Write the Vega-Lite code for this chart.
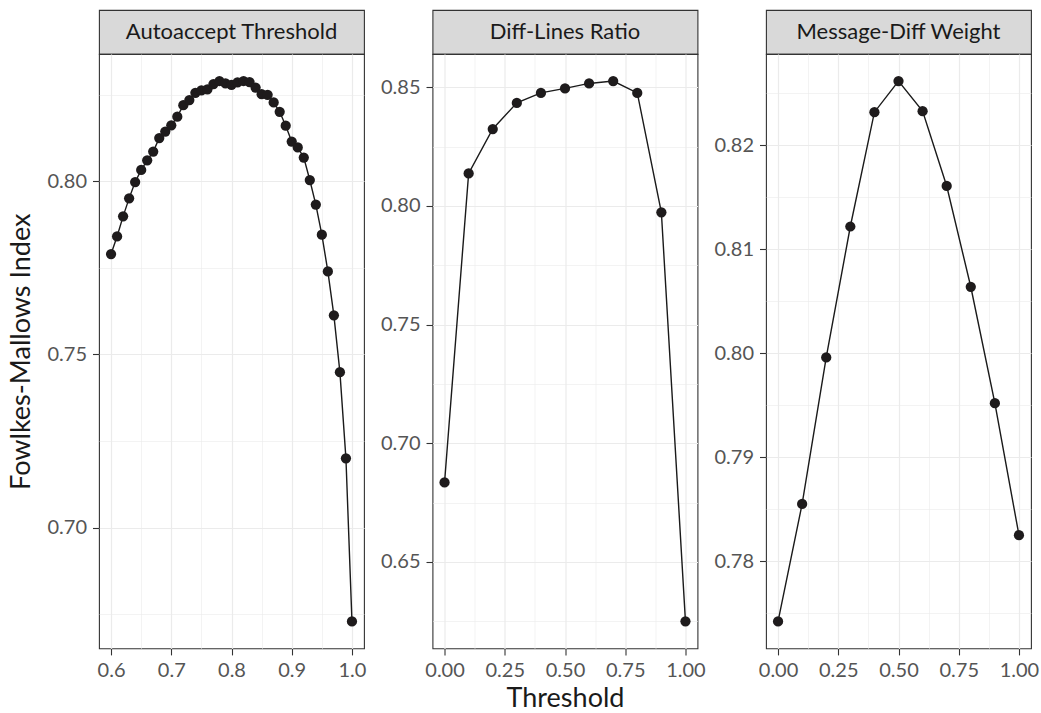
{
  "$schema": "https://vega.github.io/schema/vega-lite/v6.json",
  "padding": {"left": 7, "top": 9, "right": 3, "bottom": 0},
  "background": "white",
  "data": {"values": [
    {"panel": "Autoaccept Threshold", "threshold": 0.60, "fmi": 0.7790},
    {"panel": "Autoaccept Threshold", "threshold": 0.61, "fmi": 0.7841},
    {"panel": "Autoaccept Threshold", "threshold": 0.62, "fmi": 0.7899},
    {"panel": "Autoaccept Threshold", "threshold": 0.63, "fmi": 0.7951},
    {"panel": "Autoaccept Threshold", "threshold": 0.64, "fmi": 0.7998},
    {"panel": "Autoaccept Threshold", "threshold": 0.65, "fmi": 0.8033},
    {"panel": "Autoaccept Threshold", "threshold": 0.66, "fmi": 0.8061},
    {"panel": "Autoaccept Threshold", "threshold": 0.67, "fmi": 0.8086},
    {"panel": "Autoaccept Threshold", "threshold": 0.68, "fmi": 0.8125},
    {"panel": "Autoaccept Threshold", "threshold": 0.69, "fmi": 0.8144},
    {"panel": "Autoaccept Threshold", "threshold": 0.70, "fmi": 0.8162},
    {"panel": "Autoaccept Threshold", "threshold": 0.71, "fmi": 0.8187},
    {"panel": "Autoaccept Threshold", "threshold": 0.72, "fmi": 0.8220},
    {"panel": "Autoaccept Threshold", "threshold": 0.73, "fmi": 0.8235},
    {"panel": "Autoaccept Threshold", "threshold": 0.74, "fmi": 0.8256},
    {"panel": "Autoaccept Threshold", "threshold": 0.75, "fmi": 0.8263},
    {"panel": "Autoaccept Threshold", "threshold": 0.76, "fmi": 0.8266},
    {"panel": "Autoaccept Threshold", "threshold": 0.77, "fmi": 0.8281},
    {"panel": "Autoaccept Threshold", "threshold": 0.78, "fmi": 0.8290},
    {"panel": "Autoaccept Threshold", "threshold": 0.79, "fmi": 0.8283},
    {"panel": "Autoaccept Threshold", "threshold": 0.80, "fmi": 0.8279},
    {"panel": "Autoaccept Threshold", "threshold": 0.81, "fmi": 0.8286},
    {"panel": "Autoaccept Threshold", "threshold": 0.82, "fmi": 0.8290},
    {"panel": "Autoaccept Threshold", "threshold": 0.83, "fmi": 0.8287},
    {"panel": "Autoaccept Threshold", "threshold": 0.84, "fmi": 0.8271},
    {"panel": "Autoaccept Threshold", "threshold": 0.85, "fmi": 0.8252},
    {"panel": "Autoaccept Threshold", "threshold": 0.86, "fmi": 0.8250},
    {"panel": "Autoaccept Threshold", "threshold": 0.87, "fmi": 0.8228},
    {"panel": "Autoaccept Threshold", "threshold": 0.88, "fmi": 0.8201},
    {"panel": "Autoaccept Threshold", "threshold": 0.89, "fmi": 0.8161},
    {"panel": "Autoaccept Threshold", "threshold": 0.90, "fmi": 0.8115},
    {"panel": "Autoaccept Threshold", "threshold": 0.91, "fmi": 0.8098},
    {"panel": "Autoaccept Threshold", "threshold": 0.92, "fmi": 0.8069},
    {"panel": "Autoaccept Threshold", "threshold": 0.93, "fmi": 0.8004},
    {"panel": "Autoaccept Threshold", "threshold": 0.94, "fmi": 0.7933},
    {"panel": "Autoaccept Threshold", "threshold": 0.95, "fmi": 0.7846},
    {"panel": "Autoaccept Threshold", "threshold": 0.96, "fmi": 0.7740},
    {"panel": "Autoaccept Threshold", "threshold": 0.97, "fmi": 0.7613},
    {"panel": "Autoaccept Threshold", "threshold": 0.98, "fmi": 0.7449},
    {"panel": "Autoaccept Threshold", "threshold": 0.99, "fmi": 0.7200},
    {"panel": "Autoaccept Threshold", "threshold": 1.00, "fmi": 0.6729},
    {"panel": "Diff-Lines Ratio", "threshold": 0.0, "fmi": 0.6835},
    {"panel": "Diff-Lines Ratio", "threshold": 0.1, "fmi": 0.8137},
    {"panel": "Diff-Lines Ratio", "threshold": 0.2, "fmi": 0.8324},
    {"panel": "Diff-Lines Ratio", "threshold": 0.3, "fmi": 0.8434},
    {"panel": "Diff-Lines Ratio", "threshold": 0.4, "fmi": 0.8476},
    {"panel": "Diff-Lines Ratio", "threshold": 0.5, "fmi": 0.8495},
    {"panel": "Diff-Lines Ratio", "threshold": 0.6, "fmi": 0.8516},
    {"panel": "Diff-Lines Ratio", "threshold": 0.7, "fmi": 0.8526},
    {"panel": "Diff-Lines Ratio", "threshold": 0.8, "fmi": 0.8476},
    {"panel": "Diff-Lines Ratio", "threshold": 0.9, "fmi": 0.7973},
    {"panel": "Diff-Lines Ratio", "threshold": 1.0, "fmi": 0.6250},
    {"panel": "Message-Diff Weight", "threshold": 0.0, "fmi": 0.7742},
    {"panel": "Message-Diff Weight", "threshold": 0.1, "fmi": 0.7855},
    {"panel": "Message-Diff Weight", "threshold": 0.2, "fmi": 0.7996},
    {"panel": "Message-Diff Weight", "threshold": 0.3, "fmi": 0.8122},
    {"panel": "Message-Diff Weight", "threshold": 0.4, "fmi": 0.8232},
    {"panel": "Message-Diff Weight", "threshold": 0.5, "fmi": 0.8262},
    {"panel": "Message-Diff Weight", "threshold": 0.6, "fmi": 0.8233},
    {"panel": "Message-Diff Weight", "threshold": 0.7, "fmi": 0.8161},
    {"panel": "Message-Diff Weight", "threshold": 0.8, "fmi": 0.8064},
    {"panel": "Message-Diff Weight", "threshold": 0.9, "fmi": 0.7952},
    {"panel": "Message-Diff Weight", "threshold": 1.0, "fmi": 0.7825}
  ]},
  "config": {
    "font": "Lato",
    "view": {"stroke": "#333333", "strokeWidth": 1.1},
    "axis": {
      "domain": false, "grid": true, "gridColor": "#EBEBEB",
      "tickColor": "#333333", "tickSize": 6.5, "tickWidth": 1.1,
      "labelFont": "Lato", "labelFontSize": 20, "labelColor": "#555555", "labelPadding": 6,
      "titleFont": "Lato", "titleFontSize": 27, "titleFontWeight": "normal", "titleColor": "#1A1A1A"
    },
    "axisY": {"titlePadding": 11},
    "axisX": {"titlePadding": 5}
  },
  "columns": 3,
  "spacing": {"row": 0, "column": 68.5},
  "bounds": "flush",
  "align": "each",
  "concat": [
    {
      "width": 265, "height": 44,
      "view": {"fill": "#D9D9D9", "stroke": "#333333", "strokeWidth": 1.1},
      "transform": [{"filter": "datum.panel === 'Autoaccept Threshold'"}, {"aggregate": [{"op": "count", "as": "n"}], "groupby": ["panel"]}],
      "mark": {"type": "text", "fontSize": 22, "color": "#1A1A1A", "baseline": "middle", "align": "center"},
      "encoding": {"text": {"field": "panel", "type": "nominal"}}
    },
    {
      "width": 265, "height": 44,
      "view": {"fill": "#D9D9D9", "stroke": "#333333", "strokeWidth": 1.1},
      "transform": [{"filter": "datum.panel === 'Diff-Lines Ratio'"}, {"aggregate": [{"op": "count", "as": "n"}], "groupby": ["panel"]}],
      "mark": {"type": "text", "fontSize": 22, "color": "#1A1A1A", "baseline": "middle", "align": "center"},
      "encoding": {"text": {"field": "panel", "type": "nominal"}}
    },
    {
      "width": 265, "height": 44,
      "view": {"fill": "#D9D9D9", "stroke": "#333333", "strokeWidth": 1.1},
      "transform": [{"filter": "datum.panel === 'Message-Diff Weight'"}, {"aggregate": [{"op": "count", "as": "n"}], "groupby": ["panel"]}],
      "mark": {"type": "text", "fontSize": 22, "color": "#1A1A1A", "baseline": "middle", "align": "center"},
      "encoding": {"text": {"field": "panel", "type": "nominal"}}
    },
    {
      "width": 265, "height": 594.4,
      "transform": [{"filter": "datum.panel === 'Autoaccept Threshold'"}],
      "encoding": {
        "x": {"field": "threshold", "type": "quantitative",
          "scale": {"domain": [0.58, 1.02], "nice": false, "zero": false},
          "axis": {"title": null, "values": [0.6, 0.65, 0.7, 0.75, 0.8, 0.85, 0.9, 0.95, 1.0], "format": ".1f",
            "labelExpr": "round(datum.value*100)%10==0 ? datum.label : ''",
            "tickOpacity": {"condition": {"test": "round(datum.value*100)%10==0", "value": 1}, "value": 0},
            "gridWidth": {"condition": {"test": "round(datum.value*100)%10==0", "value": 1.2}, "value": 0.6}}},
        "y": {"field": "fmi", "type": "quantitative",
          "scale": {"domain": [0.6651, 0.8368], "nice": false, "zero": false},
          "axis": {"title": "Fowlkes-Mallows Index", "values": [0.675, 0.7, 0.725, 0.75, 0.775, 0.8, 0.825], "format": ".2f",
            "labelExpr": "round(datum.value*1000)%50==0 ? datum.label : ''",
            "tickOpacity": {"condition": {"test": "round(datum.value*1000)%50==0", "value": 1}, "value": 0},
            "gridWidth": {"condition": {"test": "round(datum.value*1000)%50==0", "value": 1.2}, "value": 0.6}}}
      },
      "layer": [
        {"mark": {"type": "line", "color": "#1A1A1A", "strokeWidth": 1.4}},
        {"mark": {"type": "point", "filled": true, "size": 105, "color": "#1E1B1C", "opacity": 1}}
      ]
    },
    {
      "width": 265, "height": 594.4,
      "transform": [{"filter": "datum.panel === 'Diff-Lines Ratio'"}],
      "encoding": {
        "x": {"field": "threshold", "type": "quantitative",
          "scale": {"domain": [-0.05, 1.05], "nice": false, "zero": false},
          "axis": {"title": "Threshold", "values": [0, 0.125, 0.25, 0.375, 0.5, 0.625, 0.75, 0.875, 1.0], "format": ".2f",
            "labelExpr": "round(datum.value*1000)%250==0 ? datum.label : ''",
            "tickOpacity": {"condition": {"test": "round(datum.value*1000)%250==0", "value": 1}, "value": 0},
            "gridWidth": {"condition": {"test": "round(datum.value*1000)%250==0", "value": 1.2}, "value": 0.6}}},
        "y": {"field": "fmi", "type": "quantitative",
          "scale": {"domain": [0.6136, 0.864], "nice": false, "zero": false},
          "axis": {"title": null, "values": [0.625, 0.65, 0.675, 0.7, 0.725, 0.75, 0.775, 0.8, 0.825, 0.85], "format": ".2f",
            "labelExpr": "round(datum.value*1000)%50==0 ? datum.label : ''",
            "tickOpacity": {"condition": {"test": "round(datum.value*1000)%50==0", "value": 1}, "value": 0},
            "gridWidth": {"condition": {"test": "round(datum.value*1000)%50==0", "value": 1.2}, "value": 0.6}}}
      },
      "layer": [
        {"mark": {"type": "line", "color": "#1A1A1A", "strokeWidth": 1.4}},
        {"mark": {"type": "point", "filled": true, "size": 105, "color": "#1E1B1C", "opacity": 1}}
      ]
    },
    {
      "width": 265, "height": 594.4,
      "transform": [{"filter": "datum.panel === 'Message-Diff Weight'"}],
      "encoding": {
        "x": {"field": "threshold", "type": "quantitative",
          "scale": {"domain": [-0.05, 1.05], "nice": false, "zero": false},
          "axis": {"title": null, "values": [0, 0.125, 0.25, 0.375, 0.5, 0.625, 0.75, 0.875, 1.0], "format": ".2f",
            "labelExpr": "round(datum.value*1000)%250==0 ? datum.label : ''",
            "tickOpacity": {"condition": {"test": "round(datum.value*1000)%250==0", "value": 1}, "value": 0},
            "gridWidth": {"condition": {"test": "round(datum.value*1000)%250==0", "value": 1.2}, "value": 0.6}}},
        "y": {"field": "fmi", "type": "quantitative",
          "scale": {"domain": [0.7716, 0.8288], "nice": false, "zero": false},
          "axis": {"title": null, "values": [0.775, 0.78, 0.785, 0.79, 0.795, 0.8, 0.805, 0.81, 0.815, 0.82, 0.825], "format": ".2f",
            "labelExpr": "round(datum.value*1000)%10==0 ? datum.label : ''",
            "tickOpacity": {"condition": {"test": "round(datum.value*1000)%10==0", "value": 1}, "value": 0},
            "gridWidth": {"condition": {"test": "round(datum.value*1000)%10==0", "value": 1.2}, "value": 0.6}}}
      },
      "layer": [
        {"mark": {"type": "line", "color": "#1A1A1A", "strokeWidth": 1.4}},
        {"mark": {"type": "point", "filled": true, "size": 105, "color": "#1E1B1C", "opacity": 1}}
      ]
    }
  ]
}
